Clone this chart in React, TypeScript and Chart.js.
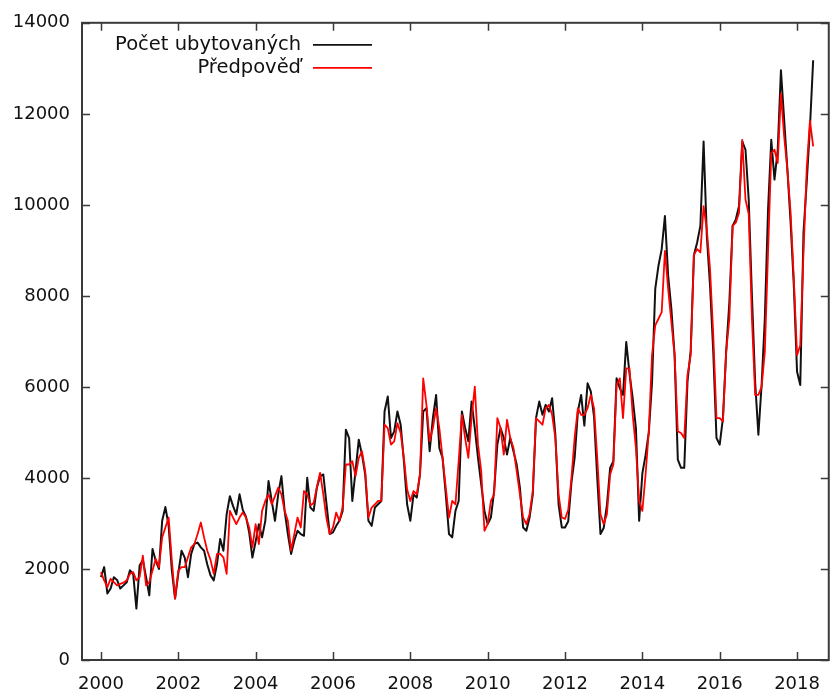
import React, { useEffect, useRef } from "react";
import { Chart, registerables } from "chart.js";

Chart.register(...registerables);

// ---- data ----
const startYear = 2000;
const yearTicks = [2000, 2002, 2004, 2006, 2008, 2010, 2012, 2014, 2016, 2018];
const valueTicks = [0, 2000, 4000, 6000, 8000, 10000, 12000, 14000];
const actualLabel = "Počet ubytovaných";
const forecastLabel = "Předpověď";

// monthly values, Jan 2000 – Jun 2018
const actual = [
  1820, 2040, 1460, 1570, 1820, 1760, 1570, 1640, 1710, 1970, 1890, 1130,
  2075, 2200, 1820, 1420, 2440, 2180, 2000, 3060, 3360, 2950, 1970, 1350,
  1900, 2400, 2250, 1820, 2330, 2550, 2580, 2475, 2400, 2100, 1860, 1750,
  2100, 2660, 2400, 3200, 3600, 3380, 3200, 3640, 3300, 3150, 2800, 2250,
  2600, 2985, 2694, 3058, 3931, 3494, 3058, 3640, 4040, 3276, 2767, 2330,
  2620, 2840, 2767, 2730, 4004, 3349, 3276, 3786, 4040, 4076, 3421, 2767,
  2803, 2948, 3058, 3276, 5060, 4877, 3494, 4150, 4841, 4513, 4076, 3058,
  2948, 3349, 3421, 3494, 5460, 5788, 4877, 5023, 5460, 5169, 4368, 3421,
  3058, 3640, 3567, 4076, 5460, 5533, 4586, 5314, 5824, 4659, 4441, 3640,
  2767, 2694, 3276, 3494, 5460, 5096, 4805, 5678, 5096, 4441, 3859, 3276,
  2985, 3130, 3713, 4732, 5096, 4877, 4513, 4877, 4586, 4295, 3786, 2912,
  2840, 3130, 3640, 5314, 5678, 5387, 5606, 5460, 5751, 4950, 3421, 2912,
  2912, 3050, 3900, 4450, 5460, 5824, 5150, 6079, 5900, 5350, 4000, 2767,
  2900, 3400, 4222, 4368, 6188, 5970, 5824, 6989, 6300, 5751, 5096, 3058,
  4100, 4500, 5000, 6100, 8153, 8663, 9027, 9755, 8445, 7717, 6698, 4400,
  4222, 4222, 6115, 6800, 8900, 9173, 9537, 11393, 9318, 8226, 6770, 4877,
  4732, 5314, 6770, 7862, 9537, 9682, 9974, 11393, 11211, 10119, 8000, 6100,
  4950, 6043, 7498, 9900, 11429, 10556, 11211, 12958, 11866, 10774, 9610, 8226,
  6334, 6043, 9391, 10500, 11700, 13177,
];

const forecast = [
  1930, 1750, 1602, 1784, 1711, 1638, 1674, 1700, 1750, 1893, 1930, 1750,
  1820, 2293, 1638, 1711, 1966, 2220, 2039, 2694, 2912, 3130, 2184, 1347,
  1966, 2039, 2039, 2257, 2475, 2548, 2767, 3021, 2694, 2402, 2200, 1893,
  2330, 2330, 2257, 1893, 3276, 3130, 2985, 3130, 3240, 3130, 2912, 2475,
  2985, 2548, 3276, 3494, 3640, 3421, 3600, 3786, 3640, 3276, 3058, 2402,
  2767, 3130, 2912, 3713, 3640, 3400, 3450, 3800, 4113, 3640, 3100, 2767,
  2912, 3240, 3058, 3349, 4295, 4295, 4368, 4040, 4441, 4586, 4150, 3130,
  3349, 3421, 3494, 3494, 5169, 5096, 4732, 4805, 5205, 4987, 4441, 3750,
  3494, 3713, 3640, 4076, 6188, 5606, 4805, 5096, 5533, 5096, 4441, 3786,
  3130, 3494, 3421, 4368, 5387, 4877, 4441, 5314, 6006, 4732, 4150, 2840,
  2985, 3494, 3640, 5314, 5096, 4513, 5278, 4877, 4659, 4150, 3640, 3130,
  2985, 3203, 3713, 5314, 5242, 5169, 5533, 5606, 5387, 4877, 3640, 3130,
  3100, 3300, 4000, 4900, 5533, 5387, 5387, 5533, 5824, 5533, 4441, 3203,
  2985, 3203, 4076, 4295, 6043, 6188, 5314, 6406, 6406, 5387, 4659, 3494,
  3276, 4076, 5023, 6700, 7353, 7498, 7644, 8991, 8153, 7426, 6698, 5023,
  4987, 4877, 6261, 6698, 8900, 9027, 8954, 9974, 9463, 8590, 7135, 5314,
  5314, 5242, 6770, 7498, 9537, 9610, 9828, 11429, 10119, 9800, 7500, 5824,
  5824, 6000, 6770, 8954, 11138, 11211, 10920, 12449, 11502, 10774, 9828, 8372,
  6698, 6916, 8954, 10800, 11850, 11284,
];

const FONT = '"DejaVu Sans", Verdana, sans-serif';
const ACTUAL_COLOR = "#111111";
const FORECAST_COLOR = "#ff0000";

const toPoints = (arr: number[]) =>
  arr.map((v, i) => ({ x: startYear + i / 12, y: v }));

const framePlugin = {
  id: "frameAndLegend",
  afterDraw(chart: any) {
    const { ctx, chartArea: a, scales } = chart;
    ctx.save();
    ctx.strokeStyle = "#3a3a3a";
    ctx.lineWidth = 2;
    ctx.strokeRect(a.left, a.top, a.right - a.left, a.bottom - a.top);
    const L = 8;
    ctx.lineWidth = 1.5;
    ctx.beginPath();
    for (const v of yearTicks) {
      const px = Math.round(scales.x.getPixelForValue(v)) + 0.5;
      ctx.moveTo(px, a.bottom);
      ctx.lineTo(px, a.bottom - L);
      ctx.moveTo(px, a.top);
      ctx.lineTo(px, a.top + L);
    }
    for (const v of valueTicks) {
      const py = Math.round(scales.y.getPixelForValue(v)) + 0.5;
      ctx.moveTo(a.left, py);
      ctx.lineTo(a.left + L, py);
      ctx.moveTo(a.right, py);
      ctx.lineTo(a.right - L, py);
    }
    ctx.stroke();

    // legend (gnuplot style: right-aligned text, sample line after it)
    const textRight = a.left + 219;
    const sx0 = a.left + 231;
    const sx1 = a.left + 290;
    const rows = [
      { label: actualLabel, color: ACTUAL_COLOR, y: a.top + 22 },
      { label: forecastLabel, color: FORECAST_COLOR, y: a.top + 45 },
    ];
    ctx.font = `19.5px ${FONT}`;
    ctx.textAlign = "right";
    ctx.textBaseline = "middle";
    for (const r of rows) {
      ctx.fillStyle = "#111";
      ctx.fillText(r.label, textRight, r.y);
      ctx.strokeStyle = r.color;
      ctx.lineWidth = 1.8;
      ctx.beginPath();
      ctx.moveTo(sx0, r.y);
      ctx.lineTo(sx1, r.y);
      ctx.stroke();
    }
    ctx.restore();
  },
};

export default function App() {
  const ref = useRef<HTMLCanvasElement>(null);
  useEffect(() => {
    if (!ref.current) return;
    const chart = new Chart(ref.current, {
      type: "line",
      data: {
        datasets: [
          {
            label: forecastLabel,
            data: toPoints(forecast),
            borderColor: FORECAST_COLOR,
            borderWidth: 1.8,
            borderJoinStyle: "round",
            pointRadius: 0,
            tension: 0,
            fill: false,
            order: 0,
          },
          {
            label: actualLabel,
            data: toPoints(actual),
            borderColor: ACTUAL_COLOR,
            borderWidth: 2,
            borderJoinStyle: "round",
            pointRadius: 0,
            tension: 0,
            fill: false,
            order: 1,
          },
        ],
      },
      options: {
        animation: false,
        responsive: false,
        devicePixelRatio: 1,
        parsing: false as any,
        normalized: true,
        layout: { padding: { top: 19, right: 1, left: 0, bottom: 0 } },
        plugins: {
          legend: { display: false },
          tooltip: { enabled: false },
          title: { display: false },
        },
        scales: {
          x: {
            type: "linear",
            min: 1999.51,
            max: 2018.82,
            afterBuildTicks: (s: any) => {
              s.ticks = yearTicks.map((v) => ({ value: v }));
            },
            afterFit: (s: any) => {
              s.height = 34;
            },
            grid: { display: false, drawTicks: false },
            border: { display: false },
            ticks: {
              autoSkip: false,
              maxRotation: 0,
              padding: 14,
              color: "#111",
              font: { family: FONT, size: 18 },
              callback: (v: any) => String(v),
            },
          },
          y: {
            type: "linear",
            min: 0,
            max: 14000,
            afterBuildTicks: (s: any) => {
              s.ticks = valueTicks.map((v) => ({ value: v }));
            },
            afterFit: (s: any) => {
              s.width = 82;
            },
            grid: { display: false, drawTicks: false },
            border: { display: false },
            ticks: {
              padding: 12,
              color: "#111",
              font: { family: FONT, size: 18 },
              callback: (v: any) => String(v),
            },
          },
        },
      },
      plugins: [framePlugin],
    });
    return () => chart.destroy();
  }, []);

  return (
    <div
      style={{
        position: "absolute",
        left: 0,
        top: 0,
        width: 834,
        height: 694,
        overflow: "hidden",
        background: "#fff",
      }}
    >
      <canvas ref={ref} width={834} height={694} />
    </div>
  );
}
